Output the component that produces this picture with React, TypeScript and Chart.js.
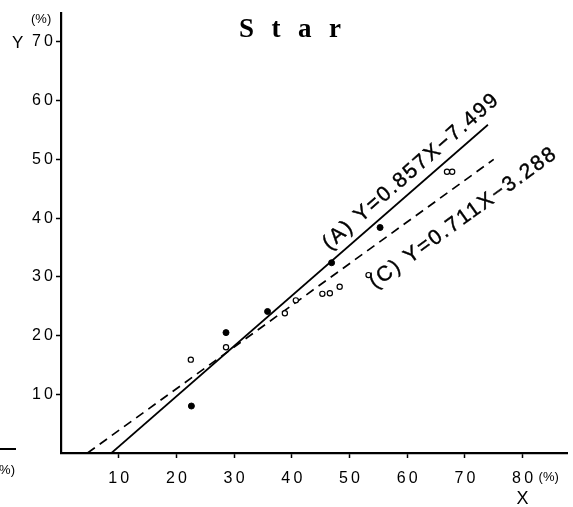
import React, { useEffect, useRef } from "react";
import { Chart, registerables } from "chart.js";
Chart.register(...registerables);

const xTicks = [10, 20, 30, 40, 50, 60, 70, 80];
const yTicks = [10, 20, 30, 40, 50, 60, 70];
const filledX = [22.6, 28.6, 35.8, 46.9, 55.3];
const filledY = [8.0, 20.5, 24.1, 32.4, 38.4];
const openX = [22.5, 28.6, 38.8, 40.7, 45.3, 46.6, 48.3, 53.3, 66.9, 67.8];
const openY = [15.9, 18.0, 23.8, 26.0, 27.1, 27.2, 28.3, 30.3, 47.9, 47.9];
const lineAX = [8.75, 74.0];
const lineAY = [0, 55.9];
const lineCX = [4.6, 75.0];
const lineCY = [0, 50.0];
const labelA = "(A) Y=0.857X\u22127.499";
const labelC = "(C) Y=0.711X\u22123.288";
const titleText = "Star";

const SANS = "'Liberation Sans', Arial, sans-serif";
const SERIF = "'Liberation Serif', 'DejaVu Serif', serif";

const spaced = (v: number | string) => String(v).split("").join("\u2009");

const annotPlugin = {
  id: "annot",
  afterDraw(chart: any) {
    const { ctx, scales } = chart;
    const xs = scales.x;
    const ys = scales.y;
    const px = (vx: number, vy: number) => [xs.getPixelForValue(vx), ys.getPixelForValue(vy)];

    const eq = (text: string, lx: number[], ly: number[], anchorX: number, dy: number) => {
      const [x0, y0] = px(lx[0], ly[0]);
      const [x1, y1] = px(lx[1], ly[1]);
      const ang = Math.atan2(y1 - y0, x1 - x0);
      const t = (anchorX - lx[0]) / (lx[1] - lx[0]);
      const ax = x0 + t * (x1 - x0);
      const ay = y0 + t * (y1 - y0);
      ctx.save();
      ctx.translate(ax, ay);
      ctx.rotate(ang);
      ctx.font = `21px ${SANS}`;
      (ctx as any).letterSpacing = "2px";
      ctx.fillStyle = "#000";
      ctx.strokeStyle = "#000";
      ctx.lineWidth = 0.4;
      ctx.textAlign = "left";
      ctx.textBaseline = "alphabetic";
      ctx.fillText(text, 0, dy);
      ctx.strokeText(text, 0, dy);
      ctx.restore();
    };
    eq(labelA, lineAX, lineAY, 47.6, -9.5);
    eq(labelC, lineCX, lineCY, 50.8, 35.5);

    ctx.save();
    ctx.fillStyle = "#000";
    // title
    ctx.font = `bold 27px ${SERIF}`;
    (ctx as any).letterSpacing = "17.5px";
    ctx.textAlign = "left";
    ctx.textBaseline = "alphabetic";
    ctx.fillText(titleText, 239, 37);
    (ctx as any).letterSpacing = "0px";

    // axis unit labels
    const [, y70] = px(0, 70);
    const [x80] = px(80, 0);
    ctx.font = `17px ${SANS}`;
    ctx.textBaseline = "middle";
    ctx.textAlign = "left";
    ctx.fillText("Y", 12, y70 + 1);
    ctx.font = `13px ${SANS}`;
    ctx.fillText("(%)", 31, 19);
    ctx.font = `18px ${SANS}`;
    ctx.textAlign = "center";
    ctx.fillText("X", x80, 499);
    ctx.font = `13px ${SANS}`;
    ctx.textAlign = "left";
    ctx.fillText("(%)", x80 + 16, 477);

    // fragment of a neighbouring figure at the far left
    ctx.strokeStyle = "#000";
    ctx.lineWidth = 2;
    ctx.beginPath();
    ctx.moveTo(0, 449);
    ctx.lineTo(16, 449);
    ctx.stroke();
    ctx.font = `13px ${SANS}`;
    ctx.textAlign = "right";
    ctx.fillText("(%)", 15, 470);
    ctx.restore();
  },
};

export default function App() {
  const ref = useRef<HTMLCanvasElement>(null);
  useEffect(() => {
    if (!ref.current) return;
    const toPts = (xs: number[], ys: number[]) => xs.map((v, i) => ({ x: v, y: ys[i] }));
    const chart = new Chart(ref.current, {
      type: "scatter",
      data: {
        datasets: [
          {
            label: "A fit",
            data: toPts(lineAX, lineAY),
            showLine: true,
            borderColor: "#000",
            borderWidth: 1.7,
            pointRadius: 0,
            order: 3,
          },
          {
            label: "C fit",
            data: toPts(lineCX, lineCY),
            showLine: true,
            borderColor: "#000",
            borderWidth: 1.7,
            borderDash: [9, 6],
            pointRadius: 0,
            order: 4,
          },
          {
            label: "A",
            data: toPts(filledX, filledY),
            pointRadius: 3,
            pointBackgroundColor: "#000",
            pointBorderColor: "#000",
            pointBorderWidth: 1,
            order: 1,
          },
          {
            label: "C",
            data: toPts(openX, openY),
            pointRadius: 2.6,
            pointBackgroundColor: "#fff",
            pointBorderColor: "#000",
            pointBorderWidth: 1.2,
            order: 2,
          },
        ],
      },
      options: {
        responsive: false,
        animation: false,
        events: [],
        layout: { padding: { left: 0, right: 6, top: 7, bottom: 0 } },
        plugins: { legend: { display: false }, tooltip: { enabled: false }, title: { display: false } },
        scales: {
          x: {
            type: "linear",
            min: 0,
            max: 87.7,
            afterBuildTicks: (s: any) => {
              s.ticks = xTicks.map((v) => ({ value: v }));
            },
            afterFit: (s: any) => {
              s.height = 54;
            },
            ticks: {
              callback: (v: any) => spaced(v),
              font: { family: SANS, size: 16 },
              color: "#000",
              padding: 11,
              maxRotation: 0,
              autoSkip: false,
            },
            grid: { display: true, drawOnChartArea: false, drawTicks: true, tickLength: 5, tickColor: "#000", tickWidth: 1.5 },
            border: { display: true, color: "#000", width: 2.2 },
          },
          y: {
            type: "linear",
            min: 0,
            max: 75,
            afterBuildTicks: (s: any) => {
              s.ticks = yTicks.map((v) => ({ value: v }));
            },
            afterFit: (s: any) => {
              s.width = 61;
            },
            ticks: {
              callback: (v: any) => spaced(v),
              font: { family: SANS, size: 16 },
              color: "#000",
              padding: 3,
              autoSkip: false,
            },
            grid: { display: true, drawOnChartArea: false, drawTicks: true, tickLength: 5, tickColor: "#000", tickWidth: 1.5 },
            border: { display: true, color: "#000", width: 2.2 },
          },
        },
      },
      plugins: [annotPlugin],
    } as any);
    return () => chart.destroy();
  }, []);
  return (
    <div style={{ position: "absolute", left: 0, top: 0, width: 573, height: 507, background: "#fff" }}>
      <canvas ref={ref} width={573} height={507} style={{ display: "block" }} />
    </div>
  );
}
